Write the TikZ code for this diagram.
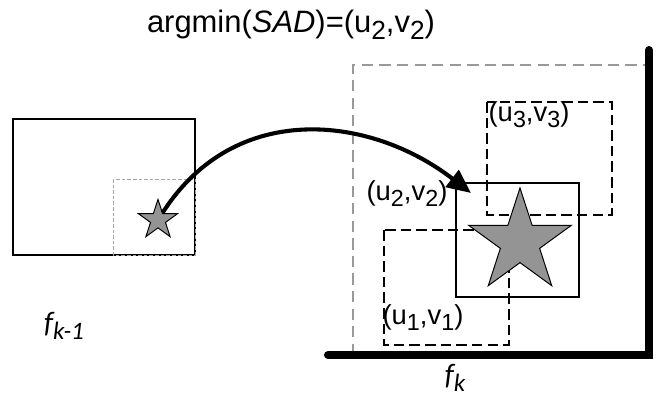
\documentclass[tikz,border=0pt]{standalone}
\usepackage{graphicx}
\usepackage{fontspec}
\setmainfont{Liberation Sans}
\newfontfamily\framefont{Carlito}
\usetikzlibrary{shapes.geometric,arrows.meta}
\newcommand{\lowidx}[1]{\raisebox{-0.22em}{\scalebox{0.85}{#1}}}
\tikzset{
  frame/.style={draw, line width=1.4pt},
  block/.style={draw, line width=1.1pt},
  search/.style={draw, line width=1.4pt, dash pattern=on 7.5pt off 3.6pt},
  area/.style={draw=black!40, line width=1.1pt, dash pattern=on 8pt off 4.5pt},
  oldblock/.style={draw=black!35, line width=0.7pt, dash pattern=on 2.5pt off 1.5pt},
  starmark/.style={shape=star, star points=5, star point ratio=2.618, inner sep=0pt,
    draw, fill=black!42, line width=0.7pt},
  lbl/.style={inner sep=0pt, font=\fontsize{19.5}{22}\selectfont},
  flbl/.style={inner sep=0pt, font=\framefont\itshape\fontsize{21}{24}\selectfont}
}
\begin{document}
\begin{tikzpicture}[x=0.025cm,y=-0.025cm]
\useasboundingbox (0,0) rectangle (660,398);
% previous frame
\draw[frame] (13,119) rectangle (195,255);
\draw[oldblock] (113,179) rectangle (195,255);
\node[starmark, minimum size=1.03cm] (s1) at (158,220) {};
\node[flbl] (fk1) at (64,326) {f\lowidx{k-1}};
% current frame
\draw[area] (353,355) -- (353,65) -- (645,65);
\draw[line width=5.7pt, line cap=round] (328,355) -- (649,355) -- (649,50);
\node[flbl] (fk) at (455,378) {f\lowidx{k}};
\draw[search] (487,102) rectangle (612,215);
\draw[search] (384,230) rectangle (509,345);
\draw[block] (456,183) rectangle (579,297);
\node[starmark, minimum size=2.7cm] (s2) at (520,242) {};
\node[lbl] (c3) at (529,115) {(u\lowidx{3},v\lowidx{3})};
\node[lbl] (c2) at (407,194) {(u\lowidx{2},v\lowidx{2})};
\node[lbl] (c1) at (423,318) {(u\lowidx{1},v\lowidx{1})};
\node[lbl, font=\fontsize{22}{26}\selectfont] (best) at (291,25)
  {argmin(\textit{SAD})=(u\lowidx{2},v\lowidx{2})};
% motion
\coordinate (tip) at (471,193);
\draw[line width=2.9pt, -{Triangle[length=17pt,width=15pt]}]
  (s1) .. controls (235,100) and (370,115) .. (tip);
\end{tikzpicture}
\end{document}
